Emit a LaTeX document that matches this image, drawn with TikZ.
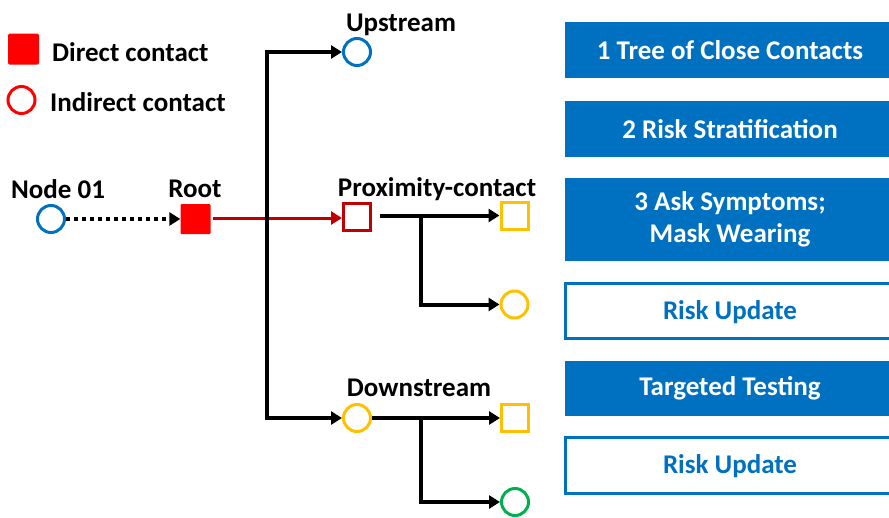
\documentclass[tikz,border=0pt]{standalone}
\usepackage{fontspec}
\setmainfont{Carlito}
\usetikzlibrary{arrows.meta}

\definecolor{nodeblue}{HTML}{0070C0}
\definecolor{darkred}{HTML}{C00000}
\definecolor{ambery}{HTML}{FFC000}
\definecolor{greenn}{HTML}{00B050}

\tikzset{
    txt/.style={font=\fontsize{27}{30}\selectfont\bfseries, inner sep=0pt},
    circ/.style={circle, draw=#1, line width=3pt, minimum size=27pt, inner sep=0pt},
    sq/.style={rectangle, draw=#1, line width=3pt, minimum size=27pt, inner sep=0pt},
    conn/.style={draw=black, line width=4pt, -{Triangle[length=11pt,width=13pt]}},
    bluebox/.style={rectangle, fill=nodeblue, text=white, minimum width=330pt, txt, align=center},
    linebox/.style={rectangle, draw=nodeblue, line width=3pt, fill=white, text=nodeblue, minimum width=330pt, txt}
}

\begin{document}
\begin{tikzpicture}[x=1pt,y=-1pt]
    \clip (0,0) rectangle (889,517);
    \useasboundingbox (0,0) rectangle (889,517);

    % legend
    \node[rectangle, fill=red, rounded corners=1.5pt, minimum size=31pt, inner sep=0pt] (legsq) at (23.5,49) {};
    \node[circ=red] (legcirc) at (21.5,100) {};
    \node[txt, anchor=west] (legdirect) at (52,52) {Direct contact};
    \node[txt, anchor=west] (legindirect) at (50,102) {Indirect contact};

    % tree nodes
    \begin{scope}
        \node[circ=nodeblue] (n01) at (51,219) {};
        \node[rectangle, fill=red, rounded corners=1pt, minimum size=30pt, inner sep=0pt] (root) at (195.5,219) {};
        \node[circ=nodeblue] (up) at (357,52) {};
        \node[sq=darkred] (prox) at (357,217) {};
        \node[sq=ambery] (psq) at (514.5,215.5) {};
        \node[circ=ambery] (pcir) at (514.5,304.5) {};
        \node[circ=ambery] (down) at (357,418) {};
        \node[sq=ambery] (dsq) at (515,418) {};
        \node[circ=greenn] (dcir) at (515,502) {};
    \end{scope}

    % labels
    \begin{scope}[every node/.style={txt}]
        \node (lbln01) at (58,189) {Node 01};
        \node (lblroot) at (195,189) {Root};
        \node (lblup) at (401,25) {Upstream};
        \node (lblprox) at (437,189) {Proximity-contact};
        \node (lbldown) at (419,388) {Downstream};
    \end{scope}

    % branch points
    \coordinate (trunk) at (267,218);
    \coordinate (pb) at (421,215.5);
    \coordinate (db) at (421,418);

    % connectors
    \draw[black, line width=4pt, dash pattern=on 4pt off 4pt, -{Triangle[length=11pt,width=13pt]}] (n01) -- (root);
    \draw[darkred, line width=3pt, shorten <=2pt, -{Triangle[length=11pt,width=13pt]}] (root.east |- trunk) -- (prox.west |- trunk);
    \draw[conn] (trunk) |- (up);
    \draw[conn] (trunk) |- (down);
    \draw[conn, shorten <=8pt] (prox.east |- psq) -- (psq);
    \draw[conn] (pb) |- (pcir);
    \draw[conn] (down) -- (dsq);
    \draw[conn] (db) |- (dcir);

    % steps
    \node[bluebox, minimum height=56pt] (step1) at (730,50) {1 Tree of Close Contacts};
    \node[bluebox, minimum height=56pt] (step2) at (730,129) {2 Risk Stratification};
    \node[bluebox, minimum height=83pt] (step3) at (730,219.5) {3 Ask Symptoms;\\[2pt]Mask Wearing};
    \node[linebox, minimum height=55pt, text depth=2pt] (upd1) at (730,311) {Risk Update};
    \node[bluebox, minimum height=55pt] (tgt) at (730,388.5) {Targeted Testing};
    \node[linebox, minimum height=56pt, text depth=2pt] (upd2) at (730,465.5) {Risk Update};
\end{tikzpicture}
\end{document}
